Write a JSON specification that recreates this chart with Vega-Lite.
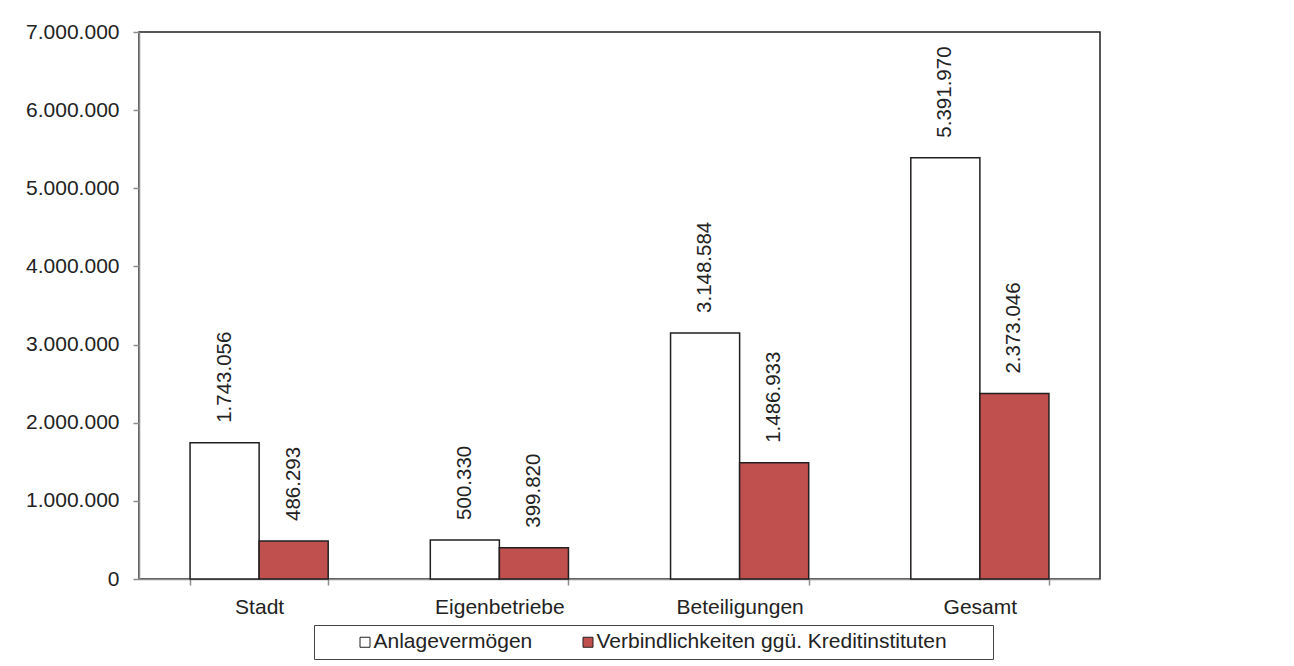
{
  "$schema": "https://vega.github.io/schema/vega-lite/v6.json",
  "autosize": "none",
  "width": 961,
  "height": 547,
  "padding": {"left": 139, "top": 32, "right": 194, "bottom": 87},
  "background": "#ffffff",
  "data": {
    "values": [
      {"kategorie": "Stadt", "reihe": "Anlagevermögen", "wert": 1743056},
      {"kategorie": "Stadt", "reihe": "Verbindlichkeiten ggü. Kreditinstituten", "wert": 486293},
      {"kategorie": "Eigenbetriebe", "reihe": "Anlagevermögen", "wert": 500330},
      {"kategorie": "Eigenbetriebe", "reihe": "Verbindlichkeiten ggü. Kreditinstituten", "wert": 399820},
      {"kategorie": "Beteiligungen", "reihe": "Anlagevermögen", "wert": 3148584},
      {"kategorie": "Beteiligungen", "reihe": "Verbindlichkeiten ggü. Kreditinstituten", "wert": 1486933},
      {"kategorie": "Gesamt", "reihe": "Anlagevermögen", "wert": 5391970},
      {"kategorie": "Gesamt", "reihe": "Verbindlichkeiten ggü. Kreditinstituten", "wert": 2373046}
    ]
  },
  "encoding": {
    "x": {
      "field": "kategorie",
      "type": "nominal",
      "sort": ["Stadt", "Eigenbetriebe", "Beteiligungen", "Gesamt"],
      "scale": {"paddingInner": 0.425, "paddingOuter": 0.2125},
      "axis": {
        "title": null,
        "labelAngle": 0,
        "domainColor": "#8c8c8c",
        "domainWidth": 1.5,
        "tickColor": "#8c8c8c",
        "tickWidth": 1.5,
        "tickSize": 6,
        "tickBand": "extent",
        "labelPadding": 11,
        "grid": false
      }
    },
    "xOffset": {
      "field": "reihe",
      "type": "nominal",
      "sort": ["Anlagevermögen", "Verbindlichkeiten ggü. Kreditinstituten"],
      "scale": {"paddingInner": 0, "paddingOuter": 0}
    },
    "y": {
      "field": "wert",
      "type": "quantitative",
      "scale": {"domain": [0, 7000000], "nice": false},
      "axis": {
        "title": null,
        "values": [0, 1000000, 2000000, 3000000, 4000000, 5000000, 6000000, 7000000],
        "format": ",.0f",
        "domainColor": "#8c8c8c",
        "domainWidth": 1.5,
        "tickColor": "#8c8c8c",
        "tickWidth": 1.5,
        "tickSize": 6,
        "labelPadding": 14,
        "grid": false
      }
    }
  },
  "layer": [
    {
      "mark": {"type": "bar", "stroke": "#231f20", "strokeWidth": 1.5},
      "encoding": {
        "fill": {
          "field": "reihe",
          "type": "nominal",
          "scale": {
            "domain": ["Anlagevermögen", "Verbindlichkeiten ggü. Kreditinstituten"],
            "range": ["#ffffff", "#c0504d"]
          },
          "legend": {
            "title": null,
            "orient": "none",
            "direction": "horizontal",
            "legendX": 175,
            "legendY": 593,
            "padding": 6.5,
            "strokeColor": "#444444",
            "fillColor": "#ffffff",
            "symbolType": "square",
            "symbolSize": 100,
            "symbolStrokeColor": "#231f20",
            "symbolStrokeWidth": 1,
            "symbolOffset": 34,
            "labelOffset": -2,
            "columnPadding": 11,
            "labelFontSize": 21,
            "labelLimit": 700,
            "labelColor": "#222222",
            "labelExpr": "datum.label == 'Verbindlichkeiten ggü. Kreditinstituten' ? datum.label + '\u00a0\u00a0\u00a0\u00a0\u00a0\u00a0\u2009\u200b' : datum.label"
          }
        }
      }
    },
    {
      "mark": {
        "type": "text",
        "angle": 270,
        "align": "left",
        "baseline": "middle",
        "dx": 20,
        "fontSize": 20.5,
        "color": "#222222"
      },
      "encoding": {
        "text": {"field": "wert", "type": "quantitative", "format": ",.0f"}
      }
    }
  ],
  "config": {
    "font": "Liberation Sans",
    "locale": {
      "number": {"decimal": ",", "thousands": ".", "grouping": [3], "currency": ["", " €"]}
    },
    "view": {"stroke": "#231f20", "strokeWidth": 1.5},
    "axis": {
      "labelFont": "Liberation Sans",
      "labelFontSize": 21,
      "labelColor": "#222222"
    },
    "legend": {"labelFont": "Liberation Sans"}
  }
}
